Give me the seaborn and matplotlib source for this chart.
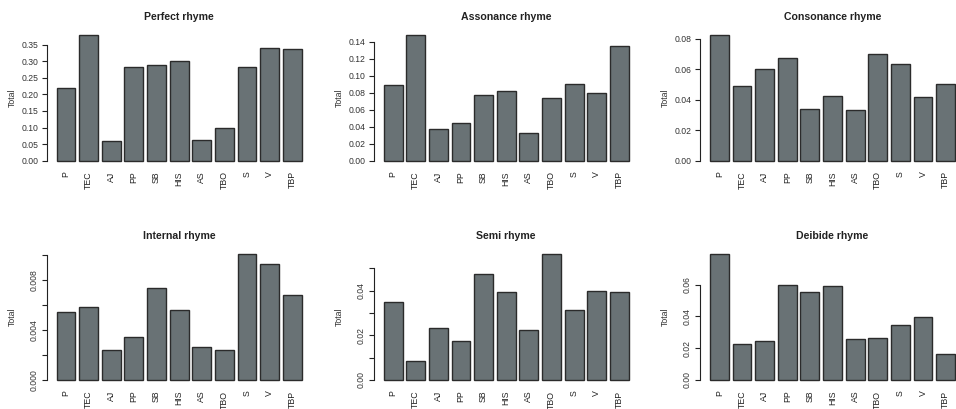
import numpy as np
import pandas as pd
import matplotlib
matplotlib.use("Agg")
import matplotlib.pyplot as plt
import seaborn as sns

# Poetic groups shown on the x axis of every panel
groups = ["P", "TEC", "AJ", "PP", "SB", "HIS", "AS", "TBO", "S", "V", "TBP"]

# Relative frequency of each rhyme type per group
perfect = [0.219, 0.380, 0.058, 0.284, 0.289, 0.302, 0.063, 0.098, 0.283, 0.341, 0.337]
assonance = [0.0888, 0.148, 0.0372, 0.0446, 0.077, 0.0817, 0.032, 0.0731, 0.0896, 0.0794, 0.135]
consonance = [0.0828, 0.0493, 0.0605, 0.0677, 0.0338, 0.0427, 0.0333, 0.0699, 0.0633, 0.0421, 0.0502]
internal = [0.00548, 0.00583, 0.00238, 0.00345, 0.00736, 0.00562, 0.00268, 0.00238, 0.0101, 0.00934, 0.0068]
semi = [0.0349, 0.00866, 0.0231, 0.0173, 0.0475, 0.0393, 0.0225, 0.0564, 0.0313, 0.0400, 0.0396]
deibide = [0.0793, 0.0227, 0.0248, 0.0600, 0.0556, 0.0592, 0.0260, 0.0267, 0.0348, 0.0395, 0.0166]

titles = ["Perfect rhyme", "Assonance rhyme", "Consonance rhyme",
          "Internal rhyme", "Semi rhyme", "Deibide rhyme"]
series = [perfect, assonance, consonance, internal, semi, deibide]

# y-axis ticks: (positions, labels) for each panel
yticks = [
    (np.arange(0, 0.351, 0.05), ["0.00", "0.05", "0.10", "0.15", "0.20", "0.25", "0.30", "0.35"]),
    (np.arange(0, 0.141, 0.02), ["0.00", "0.02", "0.04", "0.06", "0.08", "0.10", "0.12", "0.14"]),
    (np.arange(0, 0.081, 0.02), ["0.00", "0.02", "0.04", "0.06", "0.08"]),
    (np.arange(0, 0.0101, 0.002), ["0.000", "", "0.004", "", "0.008", ""]),
    (np.arange(0, 0.0501, 0.01), ["0.00", "", "0.02", "", "0.04", ""]),
    (np.arange(0, 0.0601, 0.02), ["0.00", "0.02", "0.04", "0.06"]),
]

sns.set_theme(style="white")
plt.rcParams["font.family"] = ["Liberation Sans", "DejaVu Sans"]

W, H = 956, 409
fig = plt.figure(figsize=(W / 100, H / 100), dpi=100)

col_left = [46.8, 373.9, 700.2]
ax_w = 264.7
row_top = [29.7, 249.0]
ax_h = 136.0

bar_color = "#697275"
edge_color = "#2b2b2b"

for i, (title, vals, (tpos, tlab)) in enumerate(zip(titles, series, yticks)):
    r, c = divmod(i, 3)
    left = col_left[c] / W
    bottom = (H - row_top[r] - ax_h) / H
    ax = fig.add_axes([left, bottom, ax_w / W, ax_h / H])

    df = pd.DataFrame({"group": groups, "Total": vals})
    sns.barplot(data=df, x="group", y="Total", order=groups, color=bar_color,
                saturation=1, width=1 / 1.2, edgecolor=edge_color, linewidth=1.0,
                ax=ax)

    vmax = max(vals)
    ax.set_ylim(-0.04 * vmax, 1.04 * vmax)
    ax.set_xlim(-0.85, 10.85)

    ax.set_yticks(tpos)
    ax.set_yticklabels(tlab)
    for s in ["top", "right", "bottom"]:
        ax.spines[s].set_visible(False)
    ax.spines["left"].set_bounds(0, tpos[-1])
    ax.spines["left"].set_color("#222222")
    ax.spines["left"].set_linewidth(0.8)

    ax.tick_params(axis="y", length=3.6, width=0.8, color="#222222", pad=2.5,
                   labelsize=6.2, labelcolor="#333333", left=True)
    if r == 1:
        for t in ax.get_yticklabels():
            t.set_rotation(90)
            t.set_va("center")
            t.set_ha("right")
    ax.tick_params(axis="x", length=0, pad=4, labelsize=6.3, labelcolor="#222222",
                   labelrotation=90)

    ax.set_xlabel("")
    ax.set_ylabel("Total", fontsize=6.3, color="#333333")
    ax.yaxis.set_label_coords(-30 / ax_w, 0.5)
    ax.set_title(title, fontsize=7.6, fontweight="bold", color="#222222", pad=7)

fig.savefig("out.png", dpi=100)
